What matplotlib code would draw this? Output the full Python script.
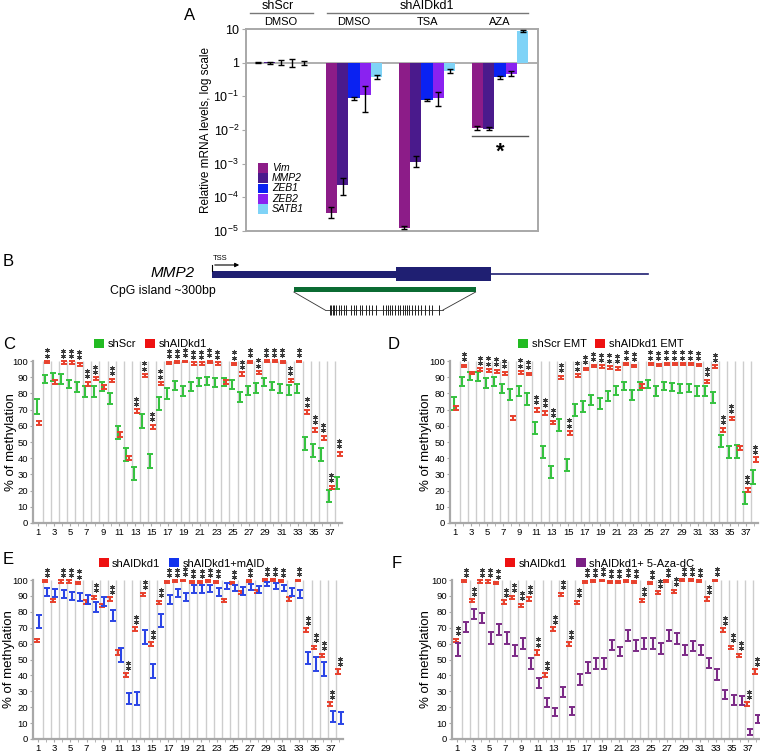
import matplotlib
matplotlib.use('Agg')
import numpy as np
from matplotlib import pyplot as plt
from matplotlib.patches import Patch, Rectangle
from matplotlib.ticker import FixedLocator, FuncFormatter, NullLocator

plt.rcParams['font.family'] = ['Liberation Sans', 'DejaVu Sans']
plt.rcParams['mathtext.fontset'] = 'custom'
plt.rcParams['mathtext.rm'] = 'Liberation Sans'

# ---------------- panel A: qPCR, relative mRNA levels ----------------
groups = ['DMSO', 'DMSO', 'TSA', 'AZA']
genes = ['Vim', 'MMP2', 'ZEB1', 'ZEB2', 'SATB1']
gene_colors = ['#8c1c88', '#4a1a8c', '#0a22f2', '#8a22f0', '#7fd3f7']

vim_val = [1.0, 3.5e-5, 1.26e-5, 0.0117]
vim_lo = [0.97, 2.5e-5, 1.15e-5, 0.0102]
vim_hi = [1.03, 5.0e-5, 1.4e-5, 0.0135]
mmp2_val = [1.02, 2.4e-4, 1.15e-3, 0.011]
mmp2_lo = [0.94, 1.15e-4, 0.78e-3, 0.0097]
mmp2_hi = [1.08, 3.8e-4, 1.65e-3, 0.0124]
zeb1_val = [0.98, 0.087, 0.078, 0.37]
zeb1_lo = [0.86, 0.080, 0.074, 0.33]
zeb1_hi = [1.17, 0.094, 0.082, 0.41]
zeb2_val = [0.97, 0.11, 0.087, 0.47]
zeb2_lo = [0.75, 0.035, 0.05, 0.40]
zeb2_hi = [1.3, 0.20, 0.13, 0.55]
satb1_val = [1.0, 0.38, 0.55, 8.7]
satb1_lo = [0.88, 0.33, 0.48, 8.1]
satb1_hi = [1.13, 0.43, 0.66, 9.6]

# ---------------- panel B: MMP2 CpG island ----------------
# gene structure in bp from the TSS
utr_bp = (0, 304)
exon_bp = (304, 460)
intron_bp = (460, 719)
island_bp = (135, 435)
# CpG positions inside the ~300 bp island
cpg_bp = [4, 8, 12, 16, 20, 29, 35, 42, 49, 62, 68, 74, 84, 90, 102, 109, 118, 127,
          146, 153, 158, 165, 170, 178, 185, 191, 198, 204, 211, 216, 223, 231, 240,
          248, 258, 267, 276, 296]

# ---------------- panels C-F: bisulfite methylation, 38 CpGs ----------------
sites = list(range(1, 39))

shaid = [62, 99.3, 87, 99, 99, 98, 86, 89, 84, 88, 54.5, 40, 69, 91, 59.5, 86, 99, 99.2,
         99.7, 98.5, 98.5, 99.5, 98.5, 87, 98, 92, 99.5, 92.8, 100, 100, 99.5, 88, 99.7,
         68.5, 57.5, 52.5, 22, 42.5]
shaid_err = [1.2, 0.6, 1.0, 0.7, 0.7, 0.8, 1.2, 1.0, 1.2, 1.0, 1.5, 1.2, 1.2, 0.9, 1.2, 1.0,
             0.6, 0.6, 0.5, 0.7, 0.7, 0.5, 0.7, 1.0, 0.7, 1.0, 0.5, 1.0, 0.4, 0.4, 0.5, 1.0,
             0.5, 1.2, 1.2, 1.2, 1.0, 1.4]

shscr = [72, 89, 90, 89, 86, 84, 81, 81, 84.5, 77, 56, 42.5, 30.5, 63, 38.5, 73.6, 80, 85,
         81.5, 84.5, 87, 87.7, 86.7, 87, 85.5, 77.7, 81.8, 83.3, 87, 84.6, 83, 82, 82.8,
         49.3, 45, 42.5, 16.6, 24.7]
shscr_err = [4.5, 2.5, 2.5, 3, 2.5, 3, 3.3, 3.3, 2.8, 3.5, 4, 4, 4, 4.5, 4.3, 4, 3.4, 2.8,
             3, 2.8, 2.5, 2.5, 2.6, 2.5, 2.6, 3, 2.8, 2.9, 2.4, 2.6, 2.7, 2.9, 2.8, 4, 4, 4,
             3.6, 4]
stars_c = [2, 4, 5, 6, 7, 8, 10, 13, 14, 15, 16, 17, 18, 19, 20, 21, 22, 23, 25, 26, 27, 28,
           29, 30, 31, 32, 33, 34, 35, 36, 37, 38]

shscr_emt = [74, 87.3, 91, 90.6, 86.5, 87.3, 83, 79.5, 81.6, 76.4, 58.7, 44, 31.5, 60.4, 36,
             69.6, 72.2, 75.8, 73.5, 78.3, 81.8, 84.6, 79, 84.6, 85.7, 81.4, 84.6, 84, 83,
             83.5, 81.4, 81.4, 77.5, 50.8, 44, 44, 15.6, 28.3]
shscr_emt_err = [4, 2.7, 2.5, 2.9, 2.9, 2.6, 3, 3.4, 3, 3.6, 3.9, 3.8, 3.5, 3.9, 3.8, 3.6,
                 3.4, 3.1, 3.4, 2.9, 2.8, 2.6, 2.9, 2.6, 2.6, 2.9, 2.6, 2.7, 2.6, 2.6, 2.9,
                 2.9, 3.2, 3.6, 3.8, 4, 3.6, 4.3]
shaid_emt = [71, 97, 92.5, 94.5, 94, 93.5, 92.5, 65, 93, 92, 70, 68, 62, 90, 55.5, 91, 95,
             97, 96.5, 96, 95.5, 98, 97, 84.5, 98, 97.5, 98, 98, 98, 98, 97.5, 87.5, 96.5,
             57.5, 64.5, 46.5, 20.5, 39]
shaid_emt_err = [1.0, 0.7, 0.8, 0.9, 1.0, 1.0, 1.0, 1.2, 0.8, 0.9, 1.2, 1.2, 1.0, 1.0, 1.2,
                 0.9, 0.8, 0.8, 0.8, 0.8, 0.9, 0.7, 0.7, 1.0, 0.7, 0.7, 0.7, 0.7, 0.7, 0.7,
                 0.7, 1.0, 0.8, 1.2, 1.2, 1.2, 1.2, 1.5]
stars_d = [2, 4, 5, 6, 7, 9, 10, 11, 12, 13, 14, 15, 16, 17, 18, 19, 20, 21, 22, 23, 25, 26,
           27, 28, 29, 30, 31, 32, 33, 34, 35, 37, 38]

maid = [74, 92.5, 91.6, 91.3, 90, 89.5, 87.6, 83.2, 86.6, 77.8, 52.8, 25.5, 25.6, 64, 43,
        74.5, 87.7, 91.6, 89.5, 94.5, 94.5, 94.6, 92.6, 96, 95, 93, 95.4, 94, 97.5, 96, 95,
        92.5, 91.3, 51, 47.2, 44, 14.2, 13.4]
maid_err = [4.2, 2.3, 2.5, 2.4, 2.6, 2.5, 3, 3.2, 3, 3.4, 4.2, 3.7, 4.2, 4.4, 4.4, 3.9, 2.9,
            2.5, 2.5, 2.4, 2.4, 2.3, 2.5, 1.9, 2, 2.4, 2, 2, 1.5, 1.8, 2, 2.3, 2.6, 3.9, 4.2,
            4.4, 3.4, 3.7]
stars_e = [2, 4, 5, 6, 8, 10, 12, 13, 14, 15, 16, 17, 18, 19, 20, 21, 22, 23, 25, 27, 29, 30,
           31, 33, 34, 35, 36, 37, 38]

aza = [56.2, 70.6, 78.4, 76.3, 63.6, 68.8, 63.6, 55.7, 59.9, 47.3, 35, 22.7, 16.9, 29.8,
       17.7, 37.5, 45.2, 47.3, 47.3, 59.1, 55, 65.2, 59, 60, 60, 56.9, 65.2, 63, 56, 58.5,
       56, 47.9, 40.8, 27.8, 24.6, 24.4, 4.4, 12.4]
aza_err = [4, 3.2, 3.2, 3.1, 3.9, 3.5, 3.9, 3.5, 3.5, 3.5, 3.2, 2.8, 2.4, 3.1, 2.6, 3.5, 3.5,
           3.5, 3.5, 3.1, 3.1, 3.4, 3.4, 3.6, 3.4, 3.4, 3.4, 3.4, 3.1, 3.1, 3.1, 3.1, 3.4,
           2.9, 3.1, 2.9, 1.6, 2.6]
stars_f = list(range(1, 39))

GREEN = '#35c23f'
RED = '#e8402c'
BLUE = '#2a44e6'
PURPLE = '#7b2a86'
GRID = '#cdcdcd'
AXIS = '#a8a8a8'

W, H = 760, 752
fig = plt.figure(figsize=(W / 100, H / 100), dpi=100)


def px_axes(x0, y0, x1, y1):
    return fig.add_axes([x0 / W, (H - y1) / H, (x1 - x0) / W, (y1 - y0) / H])


def panel_letter(x, y, s):
    fig.text(x / W, 1 - y / H, s, fontsize=12, va='center', ha='left')


# ---------------- A ----------------
ax = px_axes(246, 29, 538, 231)
width = 0.155
xg = np.arange(len(groups))
vals = [vim_val, mmp2_val, zeb1_val, zeb2_val, satb1_val]
los = [vim_lo, mmp2_lo, zeb1_lo, zeb2_lo, satb1_lo]
his = [vim_hi, mmp2_hi, zeb1_hi, zeb2_hi, satb1_hi]
for i in range(len(genes)):
    v = np.array(vals[i])
    xs = xg + (i - 2) * width
    ax.bar(xs, v - 1, bottom=1, width=width, color=gene_colors[i], zorder=2)
    ax.errorbar(xs, v, yerr=[v - np.array(los[i]), np.array(his[i]) - v], fmt='none',
                ecolor='black', elinewidth=1, capsize=2, capthick=1, zorder=3)
ax.set_yscale('log')
ax.set_ylim(1e-5, 10)
ax.set_xlim(-0.48, 3.52)
ax.axhline(1, color=AXIS, lw=1.3, zorder=1)
ax.yaxis.set_major_locator(FixedLocator([1e-5, 1e-4, 1e-3, 1e-2, 1e-1, 1, 10]))
ax.yaxis.set_minor_locator(NullLocator())


def log_fmt(v, pos):
    e = int(round(np.log10(v)))
    if e == 1:
        return '10'
    if e == 0:
        return '1'
    return r'$\mathregular{10^{%d}}$' % e


ax.yaxis.set_major_formatter(FuncFormatter(log_fmt))
ax.tick_params(axis='y', labelsize=9, length=3, color=AXIS, pad=2)
ax.set_xticks([])
for sp in ax.spines.values():
    sp.set_color(AXIS)
    sp.set_linewidth(1.4)
ax.set_ylabel('Relative mRNA levels, log scale', fontsize=8.5)
ax.yaxis.set_label_coords(-0.118, 0.5)

tr = ax.get_xaxis_transform()
ax.plot([-0.42, 0.44], [1.079, 1.079], transform=tr, color='#777777', lw=1, clip_on=False)
ax.plot([0.63, 3.38], [1.079, 1.079], transform=tr, color='#777777', lw=1, clip_on=False)
ax.text(-0.05, 1.112, 'shScr', transform=tr, ha='center', va='center', fontsize=9)
ax.text(2.0, 1.112, 'shAIDkd1', transform=tr, ha='center', va='center', fontsize=9)
for g, name in zip(xg, groups):
    ax.text(g, 1.035, name, transform=tr, ha='center', va='center', fontsize=8)

# significance under AZA group
ax.plot([3 - 2.5 * width, 3 + 2.5 * width], [0.0066, 0.0066], color='#555555', lw=1)
ax.text(3, 0.0022, '*', ha='center', va='center', fontsize=16, fontweight='bold')

# legend drawn inside the axes
for i, (g, c) in enumerate(zip(genes, gene_colors)):
    yc = 0.312 - i * 0.0507
    ax.add_patch(Rectangle((0.041, yc - 0.024), 0.034, 0.048, transform=ax.transAxes,
                           facecolor=c, edgecolor='none'))
    ax.text(0.089, yc, g, transform=ax.transAxes, va='center', ha='left', fontsize=7.5,
            style='italic')

panel_letter(184, 15, 'A')

# ---------------- B ----------------
axb = px_axes(0, 250, 760, 335)
axb.set_xlim(0, 760)
axb.set_ylim(335, 250)
axb.axis('off')
bp_x = lambda bp: 212 + np.asarray(bp) / 1.65
NAVY = '#1f1f72'
axb.add_patch(Rectangle((bp_x(utr_bp[0]), 271), bp_x(utr_bp[1]) - bp_x(utr_bp[0]), 7,
                        facecolor=NAVY, edgecolor='none'))
axb.add_patch(Rectangle((bp_x(exon_bp[0]), 267), bp_x(exon_bp[1]) - bp_x(exon_bp[0]), 14,
                        facecolor=NAVY, edgecolor='none'))
axb.plot([bp_x(intron_bp[0]), bp_x(intron_bp[1])], [274, 274], color=NAVY, lw=1.2)
axb.add_patch(Rectangle((bp_x(island_bp[0]), 287), bp_x(island_bp[1]) - bp_x(island_bp[0]), 5,
                        facecolor='#0b6b32', edgecolor='none'))
# zoomed view of the island
zoom_x = lambda bp: 328 + np.asarray(bp) * 113 / 300
axb.plot([bp_x(island_bp[0]), 325], [292, 310], color='#333333', lw=0.6)
axb.plot([bp_x(island_bp[1]), 443], [292, 310], color='#333333', lw=0.6)
axb.plot([325, 443], [310, 310], color='#333333', lw=0.6)
axb.vlines(zoom_x(cpg_bp), 305, 315, color='#222222', lw=0.7)
# TSS arrow
axb.plot([bp_x(0), bp_x(0)], [271, 265], color='black', lw=0.8)
axb.annotate('', xy=(242, 265), xytext=(bp_x(0), 265),
             arrowprops=dict(arrowstyle='-|>', color='black', lw=0.8, mutation_scale=6))
axb.text(213, 258.5, 'TSS', fontsize=5.5, va='center', ha='left')
axb.text(195, 273.5, 'MMP2', fontsize=11, style='italic', va='center', ha='right')
axb.text(110, 291.5, 'CpG island ~300bp', fontsize=8.8, va='center', ha='left')
panel_letter(3, 262, 'B')


# ---------------- C-F ----------------
def methylation(ax, left, left_err, left_color, right, right_err, right_color, stars,
                names, legend_colors, legend_x, label_x):
    x = np.array(sites)
    ax.vlines(x[:-1] + 0.6, 0, 100, color=GRID, lw=1, zorder=0)
    ax.errorbar(x - 0.12, left, yerr=left_err, fmt='none', ecolor=left_color,
                elinewidth=1.5, capsize=2.2, capthick=1.4, clip_on=False, zorder=3)
    ax.errorbar(x + 0.18, right, yerr=right_err, fmt='none', ecolor=right_color,
                elinewidth=1.5, capsize=2.2, capthick=1.4, clip_on=False, zorder=3)
    tops = np.maximum(np.array(left) + np.array(left_err), np.array(right) + np.array(right_err))
    sx = np.array(stars)
    st = tops[sx - 1]
    ax.scatter(np.concatenate([sx, sx]) + 0.1, np.concatenate([st + 3.4, st + 6.6]),
               marker=(6, 2, 0), s=9, color='#3a3a3a', linewidths=0.75, clip_on=False,
               zorder=4)
    ax.set_xlim(0.42, 38.45)
    ax.set_ylim(0, 100)
    ax.set_yticks(range(0, 101, 10))
    ax.set_xticks(range(1, 38, 2))
    ax.set_xticks(sites, minor=True)
    ax.tick_params(axis='both', which='both', labelsize=6.8, length=2, color=AXIS, pad=1.5)
    for side in ('top', 'right'):
        ax.spines[side].set_visible(False)
    for side in ('left', 'bottom'):
        ax.spines[side].set_color(AXIS)
        ax.spines[side].set_linewidth(1.6)
    ax.set_ylabel('% of methylation', fontsize=9.5)
    ax.yaxis.set_label_coords(label_x, 0.5)
    handles = [Patch(facecolor=c, edgecolor='none', label=n) for n, c in zip(names, legend_colors)]
    ax.legend(handles=handles, loc='center', bbox_to_anchor=(legend_x, 1.105), ncol=2,
              frameon=False, fontsize=8, handlelength=0.9, handleheight=0.9,
              handletextpad=0.3, columnspacing=0.8, borderpad=0)


axc = px_axes(33, 361, 342, 523)
methylation(axc, shscr, shscr_err, GREEN, shaid, shaid_err, RED, stars_c,
            ['shScr', 'shAIDkd1'], ['#22bb22', '#ee1111'], 0.38, -0.052)
panel_letter(3, 345, 'C')

axd = px_axes(450, 361, 758, 523)
methylation(axd, shscr_emt, shscr_emt_err, GREEN, shaid_emt, shaid_emt_err, RED, stars_d,
            ['shScr EMT', 'shAIDkd1 EMT'], ['#22bb22', '#ee1111'], 0.49, -0.058)
panel_letter(388, 345, 'D')

axe = px_axes(33, 580, 343, 739)
methylation(axe, shaid, shaid_err, RED, maid, maid_err, BLUE, stars_e,
            ['shAIDkd1', 'shAIDkd1+mAID'], ['#ee1111', '#1133ee'], 0.48, -0.058)
panel_letter(3, 560, 'E')

axf = px_axes(452, 580, 760, 739)
methylation(axf, shaid, shaid_err, RED, aza, aza_err, PURPLE, stars_f,
            ['shAIDkd1', 'shAIDkd1+ 5-Aza-dC'], ['#ee1111', '#7a1f84'], 0.48, -0.065)
panel_letter(392, 563, 'F')

plt.savefig('out.png', dpi=100)
